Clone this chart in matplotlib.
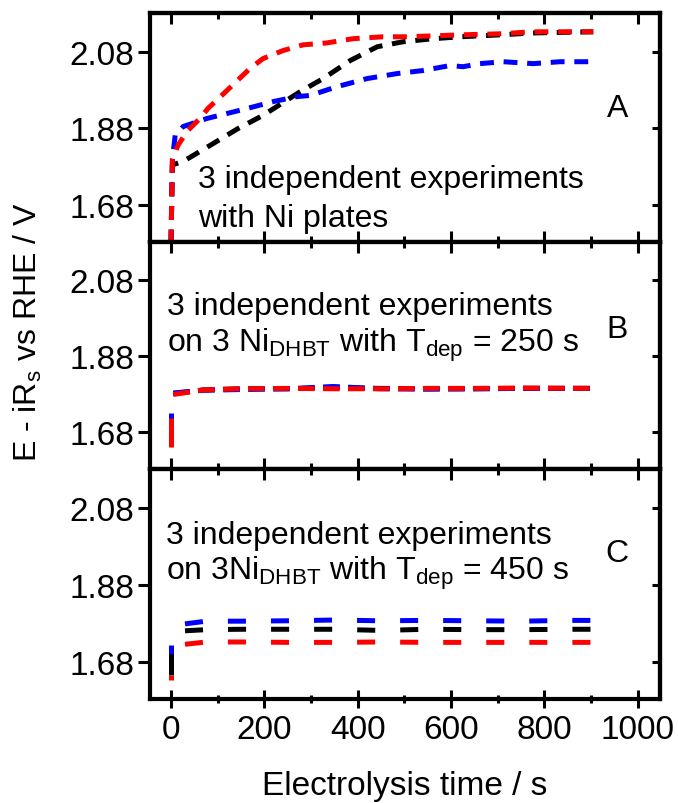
import matplotlib
matplotlib.use("Agg")
import matplotlib.pyplot as plt
from matplotlib.ticker import MultipleLocator, FixedLocator, FormatStrFormatter

plt.rcParams["font.family"] = ["Liberation Sans", "DejaVu Sans"]
plt.rcParams["mathtext.default"] = "regular"
plt.rcParams["lines.scale_dashes"] = False

# panel A: Ni plates
time_a_black = [0, 3, 26, 84, 144, 197, 277, 326, 384, 442, 497, 562, 620, 705, 776, 905]
volt_a_black = [1.58, 1.785, 1.794, 1.836, 1.880, 1.914, 1.976, 2.010, 2.057, 2.093, 2.106, 2.114, 2.119, 2.124, 2.129, 2.132]
time_a_blue = [0, 3, 9, 26, 77, 120, 163, 219, 270, 298, 356, 420, 484, 540, 598, 626, 662, 712, 776, 834, 905]
volt_a_blue = [1.58, 1.80, 1.862, 1.885, 1.906, 1.919, 1.932, 1.950, 1.963, 1.966, 1.989, 2.010, 2.023, 2.031, 2.044, 2.041, 2.049, 2.054, 2.049, 2.054, 2.054]
time_a_red = [0, 3, 15, 34, 62, 79, 120, 169, 197, 240, 283, 334, 390, 454, 506, 620, 712, 770, 905]
volt_a_red = [1.58, 1.80, 1.836, 1.872, 1.906, 1.932, 1.979, 2.036, 2.062, 2.083, 2.098, 2.103, 2.114, 2.119, 2.119, 2.124, 2.127, 2.132, 2.132]

# panel B: Ni_DHBT, T_dep = 250 s (first two points: potential jump at t = 0)
time_b = [0, 0, 5, 69, 150, 250, 347, 450, 550, 650, 750, 905]
volt_b_black = [1.65, 1.725, 1.782, 1.792, 1.795, 1.795, 1.798, 1.796, 1.795, 1.795, 1.796, 1.796]
volt_b_blue = [1.70, 1.730, 1.784, 1.791, 1.793, 1.795, 1.801, 1.795, 1.794, 1.795, 1.796, 1.796]
volt_b_red = [1.643, 1.718, 1.780, 1.792, 1.795, 1.796, 1.795, 1.795, 1.796, 1.796, 1.797, 1.796]

# panel C: Ni_DHBT, T_dep = 450 s
time_c = [0, 0, 30, 75, 150, 250, 350, 450, 550, 650, 750, 850, 905]
volt_c_black = [1.645, 1.706, 1.761, 1.764, 1.765, 1.765, 1.765, 1.762, 1.765, 1.764, 1.764, 1.765, 1.765]
volt_c_blue = [1.700, 1.725, 1.779, 1.786, 1.786, 1.787, 1.789, 1.787, 1.788, 1.787, 1.786, 1.788, 1.788]
volt_c_red = [1.633, 1.645, 1.726, 1.732, 1.732, 1.731, 1.731, 1.732, 1.731, 1.731, 1.731, 1.731, 1.731]

y_ticks = [1.68, 1.88, 2.08]
panels = [
    {
        "series": [(time_a_black, volt_a_black, "black"), (time_a_blue, volt_a_blue, "#0000ff"), (time_a_red, volt_a_red, "#ff0000")],
        "dashes": (10, 7),
        "split": False,
        "lines": [("3 independent experiments", 0.240), ("with Ni plates", 0.070)],
        "text_x": 0.094,
        "letter": ("A", 0.550),
    },
    {
        "series": [(time_b, volt_b_black, "black"), (time_b, volt_b_blue, "#0000ff"), (time_b, volt_b_red, "#ff0000")],
        "dashes": (12, 6),
        "split": True,
        "lines": [("3 independent experiments", 0.683), ("on 3 Ni$_{DHBT}$ with T$_{dep}$ = 250 s", 0.521)],
        "text_x": 0.033,
        "letter": ("B", 0.581),
    },
    {
        "series": [(time_c, volt_c_black, "black"), (time_c, volt_c_blue, "#0000ff"), (time_c, volt_c_red, "#ff0000")],
        "dashes": (13, 18),
        "split": True,
        "lines": [("3 independent experiments", 0.678), ("on 3Ni$_{DHBT}$ with T$_{dep}$ = 450 s", 0.522)],
        "text_x": 0.031,
        "letter": ("C", 0.601),
    },
]

fig = plt.figure(figsize=(6.78, 8.04), dpi=100)
left, width = 150 / 678, 510 / 678
boxes = [(14, 243), (243, 470), (470, 700)]

for i, (panel, (top_px, bot_px)) in enumerate(zip(panels, boxes)):
    ax = fig.add_axes([left, 1 - bot_px / 804, width, (bot_px - top_px) / 804])
    for t, v, color in panel["series"]:
        if panel["split"]:
            # jump at t = 0 drawn as one stroke, the rest dashed
            ax.plot(t[:2], v[:2], color=color, linewidth=3.6, solid_capstyle="butt")
            ax.plot(t[2:], v[2:], color=color, linewidth=3.6, dashes=panel["dashes"], dash_capstyle="butt")
        else:
            ax.plot(t, v, color=color, linewidth=3.6, dashes=panel["dashes"], dash_capstyle="butt")

    ax.set_xlim(-45, 1048)
    ax.set_ylim(1.584, 2.181)
    for spine in ax.spines.values():
        spine.set_linewidth(3)

    last = i == len(panels) - 1
    ax.xaxis.set_major_locator(MultipleLocator(200))
    ax.xaxis.set_minor_locator(MultipleLocator(100))
    if last:
        ax.tick_params(axis="x", which="major", direction="inout", length=13, width=2.2, labelsize=24, pad=4)
        ax.tick_params(axis="x", which="minor", direction="inout", length=6, width=2.2)
        ax.set_xlabel("Electrolysis time / s", fontsize=24, labelpad=18)
    else:
        ax.tick_params(axis="x", which="major", direction="in", length=8, width=2.2, labelbottom=False)
        ax.tick_params(axis="x", which="minor", direction="in", length=4.5, width=2.2)

    ax.yaxis.set_major_locator(FixedLocator(y_ticks))
    ax.yaxis.set_major_formatter(FormatStrFormatter("%.2f"))
    ax.tick_params(axis="y", direction="out", length=8.5, width=2.2, labelsize=24, pad=3)

    top = ax.secondary_xaxis("top")
    top.xaxis.set_major_locator(MultipleLocator(200))
    top.xaxis.set_minor_locator(MultipleLocator(100))
    top.tick_params(axis="x", which="major", direction="in", length=8, width=2.2, labeltop=False)
    top.tick_params(axis="x", which="minor", direction="in", length=4.5, width=2.2)
    top.spines["top"].set_linewidth(3)

    right = ax.secondary_yaxis("right")
    right.yaxis.set_major_locator(FixedLocator(y_ticks))
    right.tick_params(axis="y", direction="in", length=6, width=2.2, labelright=False)
    right.spines["right"].set_linewidth(3)

    for text, y in panel["lines"]:
        ax.text(panel["text_x"], y, text, transform=ax.transAxes, fontsize=23, ha="left", va="baseline")
    letter, ly = panel["letter"]
    ax.text(0.916, ly, letter, transform=ax.transAxes, fontsize=23, ha="center", va="baseline")

fig.text(28 / 678, 1 - 332 / 804, "E - iR$_s$ vs RHE / V", rotation=90, fontsize=23, ha="center", va="center")

fig.savefig("out.png", dpi=100)
